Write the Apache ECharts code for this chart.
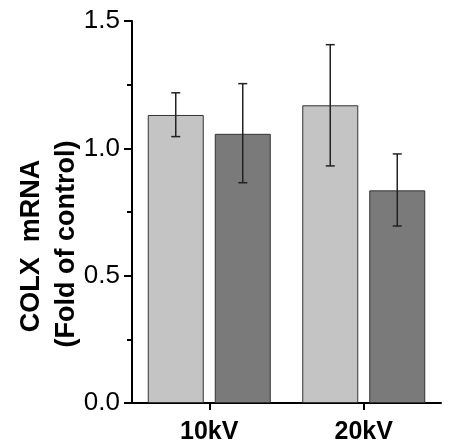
<!DOCTYPE html>
<html><head><meta charset="utf-8">
<script src="https://cdn.jsdelivr.net/npm/echarts@6/dist/echarts.min.js"></script>
<style>html,body{margin:0;padding:0;background:#fff}#c{width:449px;height:445px}</style>
</head><body><div id="c"></div>
<script>
const categories = ['10kV', '20kV'];
const seriesA = [1.131, 1.169];
const seriesB = [1.057, 0.835];
const errA = [[1.046, 1.218], [0.931, 1.407]];
const errB = [[0.865, 1.254], [0.695, 0.978]];
const yTicks = [0, 0.5, 1.0, 1.5];
const yTitle = ['COLX  mRNA', '(Fold of control)'];

const chart = echarts.init(document.getElementById('c'));
const BW = 56, GAP = 11;
const FONT = 'Liberation Sans, Arial, sans-serif';
function errSeries(err, offset) {
  return {
    type: 'custom', z: 10,
    data: err.map((e, i) => [i, e[0], e[1]]),
    renderItem: function (params, api) {
      const lo = api.coord([api.value(0), api.value(1)]);
      const hi = api.coord([api.value(0), api.value(2)]);
      const x = lo[0] + offset;
      const w = 4.5;
      const st = { stroke: '#222', lineWidth: 1.5 };
      return { type: 'group', children: [
        { type: 'line', shape: { x1: x, y1: lo[1], x2: x, y2: hi[1] }, style: st },
        { type: 'line', shape: { x1: x - w, y1: lo[1], x2: x + w, y2: lo[1] }, style: st },
        { type: 'line', shape: { x1: x - w, y1: hi[1], x2: x + w, y2: hi[1] }, style: st }
      ]};
    }
  };
}
chart.setOption({
  animation: false,
  grid: { left: 132, top: 21, right: 8, bottom: 42 },
  graphic: [
    { type: 'text', x: 32, y: 246, rotation: Math.PI / 2,
      style: { text: yTitle[0], fill: '#000', font: 'bold 27px ' + FONT, align: 'center', verticalAlign: 'middle' } },
    { type: 'text', x: 67, y: 244, rotation: Math.PI / 2,
      style: { text: yTitle[1], fill: '#000', font: 'bold 27px ' + FONT, align: 'center', verticalAlign: 'middle' } }
  ],
  xAxis: {
    type: 'category', data: categories,
    axisLine: { lineStyle: { color: '#000', width: 2 } },
    axisTick: { show: true, alignWithLabel: true, length: 7, lineStyle: { color: '#000', width: 2 } },
    axisLabel: { color: '#000', fontFamily: FONT, fontWeight: 'bold', fontSize: 25, margin: 17 }
  },
  yAxis: {
    type: 'value', min: 0, max: 1.5, interval: 0.5,
    axisLine: { show: true, lineStyle: { color: '#000', width: 2 } },
    axisTick: { show: true, length: 8, lineStyle: { color: '#000', width: 2 } },
    minorTick: { show: true, splitNumber: 2, length: 5, lineStyle: { color: '#000', width: 2 } },
    splitLine: { show: false },
    axisLabel: { color: '#000', fontFamily: FONT, fontSize: 26, margin: 12,
      formatter: v => yTicks.includes(v) ? v.toFixed(1) : '' }
  },
  series: [
    { type: 'bar', data: seriesA, barWidth: BW, barGap: (GAP / BW * 100) + '%',
      itemStyle: { color: '#c4c4c4', borderColor: '#333', borderWidth: 1 } },
    { type: 'bar', data: seriesB, barWidth: BW,
      itemStyle: { color: '#7a7a7a', borderColor: '#333', borderWidth: 1 } },
    errSeries(errA, -(BW + GAP) / 2),
    errSeries(errB, (BW + GAP) / 2)
  ]
});
</script></body></html>
